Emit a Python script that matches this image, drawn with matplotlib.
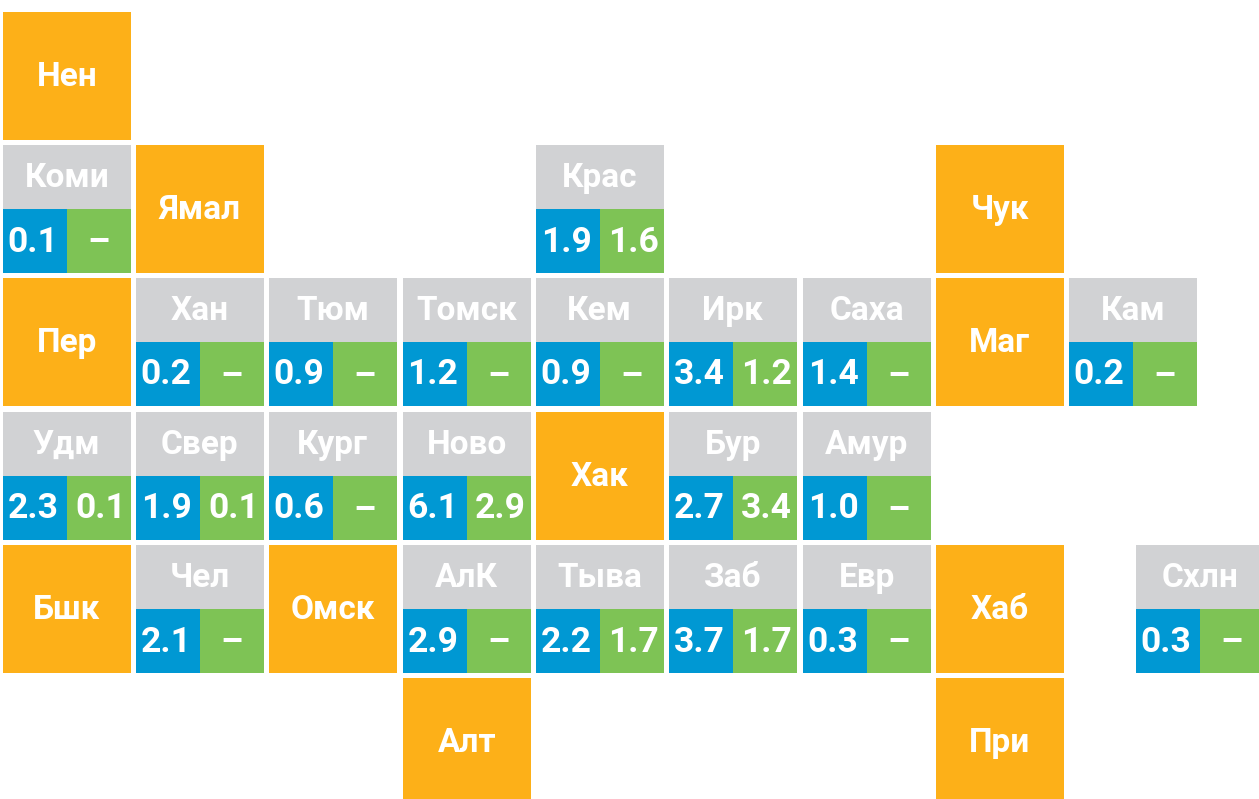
import matplotlib
matplotlib.use('Agg')
import matplotlib.pyplot as plt
from matplotlib.patches import Rectangle

ORANGE = '#FDB018'; GREY = '#D1D2D4'; BLUE = '#0098D3'; GREEN = '#7EC355'

names = ['Нен','Коми','Ямал','Крас','Чук','Пер','Хан','Тюм','Томск','Кем','Ирк','Саха','Маг','Кам',
         'Удм','Свер','Кург','Ново','Хак','Бур','Амур','Бшк','Чел','Омск','АлК','Тыва','Заб','Евр','Хаб','Схлн','Алт','При']
lefts = [3,3,136,536,936,3,136,269,403,536,669,803,936,1069,
         3,136,269,403,536,669,803,3,136,269,403,536,669,803,936,1136,403,936]
tops = [12,145,145,145,145,278,278,278,278,278,278,278,278,278,
        412,412,412,412,412,412,412,545,545,545,545,545,545,545,545,545,678,678]
blue_vals = ['','0.1','','1.9','','','0.2','0.9','1.2','0.9','3.4','1.4','','0.2',
             '2.3','1.9','0.6','6.1','','2.7','1.0','','2.1','','2.9','2.2','3.7','0.3','','0.3','','']
green_vals = ['','–','','1.6','','','–','–','–','–','1.2','–','','–',
              '0.1','0.1','–','2.9','','3.4','–','','–','','–','1.7','1.7','–','','–','','']

W, H = 1259, 799
S = 127.6
SPLIT = 64
fig = plt.figure(figsize=(W/100, H/100), dpi=100)
ax = fig.add_axes([0, 0, 1, 1])
ax.set_xlim(0, W); ax.set_ylim(H, 0); ax.axis('off')
font = 'Roboto'
FS = 24
FS_NUM = 25.5

for n, x, y, b, g in zip(names, lefts, tops, blue_vals, green_vals):
    if b == '':
        ax.add_patch(Rectangle((x, y), S, S, fc=ORANGE, ec='none'))
        ax.text(x+S/2, y+S/2+1, n, color='white', ha='center', va='center', fontsize=FS, fontweight='bold', family=font)
    else:
        ax.add_patch(Rectangle((x, y), S, SPLIT, fc=GREY, ec='none'))
        ax.add_patch(Rectangle((x, y+SPLIT), SPLIT, S-SPLIT, fc=BLUE, ec='none'))
        ax.add_patch(Rectangle((x+SPLIT, y+SPLIT), S-SPLIT, S-SPLIT, fc=GREEN, ec='none'))
        ax.text(x+S/2, y+S/4+1, n, color='white', ha='center', va='center', fontsize=FS, fontweight='bold', family=font)
        ax.text(x+30, y+97, b, color='white', ha='center', va='center', fontsize=FS_NUM, fontweight='bold', family=font)
        gx = x+96 if g == '–' else x+97.5
        gy = y+98 if g == '–' else y+97
        ax.text(gx, gy, g, color='white', ha='center', va='center', fontsize=FS_NUM, fontweight='bold', family=font)

fig.savefig('out.png', dpi=100)
